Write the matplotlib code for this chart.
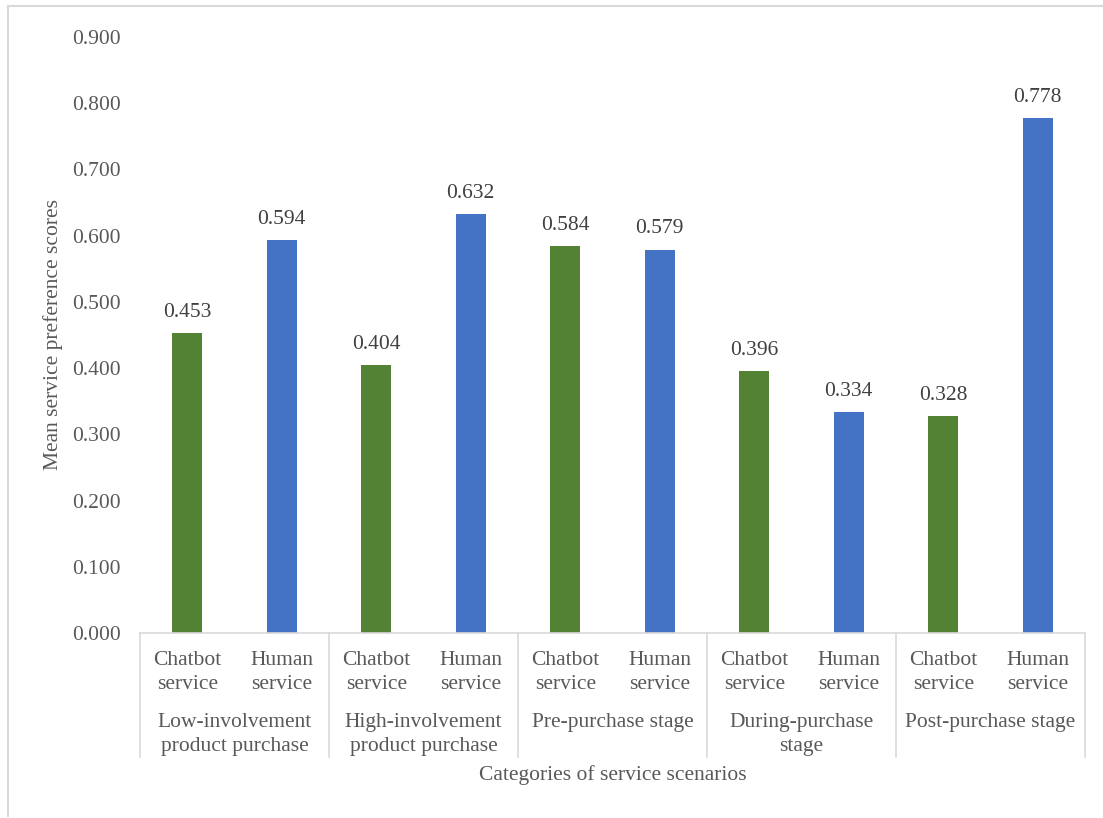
import matplotlib.pyplot as plt
import numpy as np
from matplotlib.lines import Line2D

plt.rcParams['font.family'] = ['Liberation Serif', 'DejaVu Serif']

# data
groups = ['Low-involvement\nproduct purchase', 'High-involvement\nproduct purchase',
          'Pre-purchase stage', 'During-purchase\nstage', 'Post-purchase stage']
services = ['Chatbot\nservice', 'Human\nservice']
chatbot = [0.453, 0.404, 0.584, 0.396, 0.328]
human = [0.594, 0.632, 0.579, 0.334, 0.778]

green = '#548235'
blue = '#4472C4'
txt = '#595959'
edge = '#D9D9D9'
fs = 15.5

fig = plt.figure(figsize=(11.03, 8.18), dpi=100)
ax = fig.add_axes([0.1269, 0.2262, 0.8568, 0.7286])

values = []
colors = []
for c, h in zip(chatbot, human):
    values += [c, h]
    colors += [green, blue]
x = np.arange(len(values))
bars = ax.bar(x, values, width=0.32, color=colors)

for xi, v in zip(x, values):
    ax.annotate(f'{v:.3f}', (xi, v), xytext=(0, 8), textcoords='offset points',
                ha='center', va='bottom', fontsize=fs, color='#404040')

ax.set_xlim(-0.5, len(values) - 0.5)
ax.set_ylim(0, 0.9)
ax.set_yticks(np.arange(0, 0.91, 0.1))
ax.set_yticklabels([f'{t:.3f}' for t in np.arange(0, 0.91, 0.1)])
ax.tick_params(axis='y', length=0, pad=14, labelsize=fs, labelcolor=txt)
ax.set_xticks([])

for s in ['top', 'right', 'left']:
    ax.spines[s].set_visible(False)
ax.spines['bottom'].set_color(edge)
ax.spines['bottom'].set_linewidth(1.2)

# two-level category axis
tr = ax.get_xaxis_transform()
for i, g in enumerate(groups):
    for j, s in enumerate(services):
        ax.text(2 * i + j, -0.067, s, transform=tr, ha='center', va='center',
                fontsize=fs, color=txt, linespacing=1.35)
    ax.text(2 * i + 0.5, -0.134, g, transform=tr, ha='center', va='top',
            fontsize=fs, color=txt, linespacing=1.35)
for b in np.arange(-0.5, len(values), 2):
    ax.add_line(Line2D([b, b], [0, -0.208], transform=tr, color=edge,
                       linewidth=1.2, clip_on=False))

ax.text(0.5, -0.238, 'Categories of service scenarios', transform=ax.transAxes,
        ha='center', va='center', fontsize=fs, color=txt)
ax.set_ylabel('Mean service preference scores', fontsize=fs, color=txt)
ax.yaxis.set_label_coords(-0.081, 0.5)

# outer chart frame
fig.add_artist(Line2D([0.0073, 0.0073], [0.0025, 0.9927], color=edge, linewidth=1.5))
fig.add_artist(Line2D([0.0073, 1.0], [0.9927, 0.9927], color=edge, linewidth=1.5))

fig.savefig('out.png', dpi=100, facecolor='white')
